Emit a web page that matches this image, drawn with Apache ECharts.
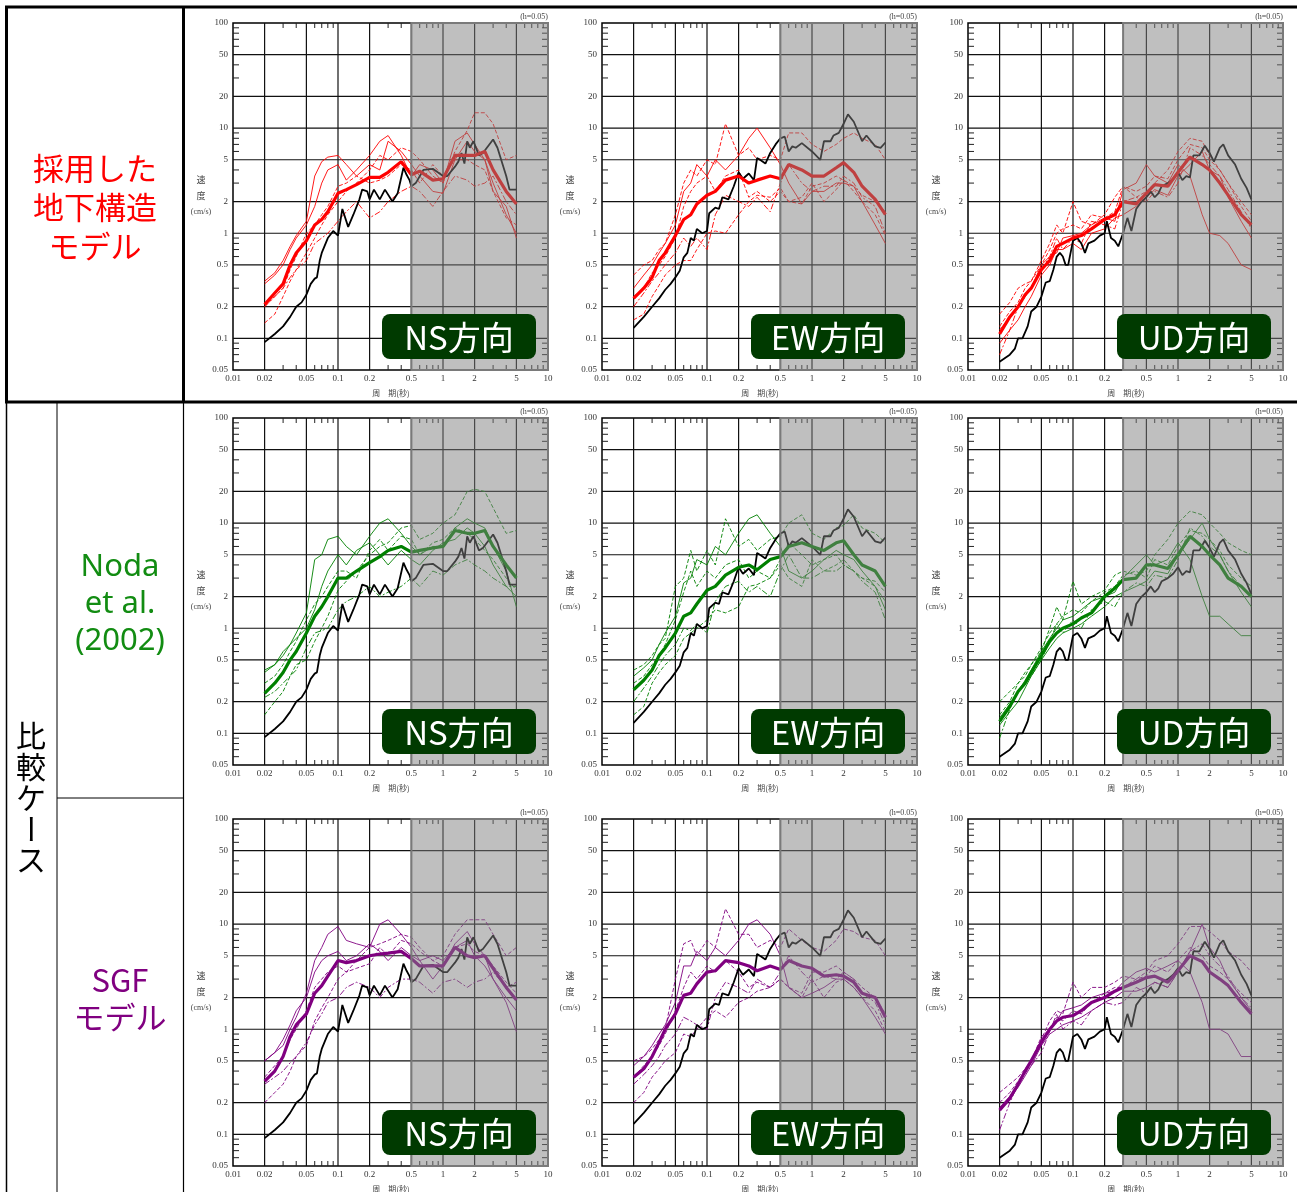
<!DOCTYPE html>
<html>
<head>
<meta charset="utf-8">
<script src="https://cdn.jsdelivr.net/npm/echarts@6/dist/echarts.min.js"></script>
<style>
html,body{margin:0;padding:0;background:#fff}
#chart{width:1297px;height:1192px}
</style>
</head>
<body>
<div id="chart"></div>
<script>
// 周期 (s) for the simulated spectra
var periods = [0.02,0.025,0.03,0.035,0.04,0.05,0.06,0.07,0.08,0.1,0.12,0.15,0.2,0.25,0.3,0.4,0.5,0.6,0.8,1,1.3,1.7,2,2.5,3,4,5];

// observed records (black)
var obsPerNS = [0.02,0.025,0.03,0.035,0.04,0.045,0.05,0.055,0.06,0.063,0.067,0.07,0.08,0.09,0.1,0.11,0.125,0.14,0.16,0.17,0.19,0.2,0.22,0.25,0.28,0.33,0.37,0.42,0.45,0.48,0.5,0.55,0.65,0.8,1.0,1.1,1.3,1.4,1.5,1.6,1.7,1.8,1.95,2.2,2.4,3.0,3.3,4.0,4.3,5.0];
var obsNS = [0.092,0.11,0.13,0.16,0.2,0.22,0.26,0.33,0.37,0.38,0.55,0.65,0.9,1.05,0.95,1.7,1.15,1.5,2.1,2.6,2.5,2.1,2.6,2.1,2.6,2.0,2.4,4.2,3.6,3.2,2.8,3.0,4.0,4.1,3.5,3.5,4.3,4.8,5.8,4.6,7.5,6.5,7.5,5.5,5.8,7.8,6.5,3.5,2.6,2.6];
var obsPerEW = [0.02,0.025,0.03,0.035,0.04,0.045,0.05,0.055,0.06,0.065,0.07,0.075,0.08,0.09,0.1,0.105,0.12,0.13,0.14,0.16,0.18,0.2,0.22,0.25,0.28,0.3,0.33,0.36,0.4,0.45,0.5,0.55,0.6,0.65,0.7,0.8,1.0,1.2,1.3,1.5,1.6,1.8,2.0,2.2,2.5,3.0,3.3,4.0,4.5,5.0];
var obsEW = [0.126,0.16,0.2,0.24,0.29,0.33,0.38,0.44,0.59,0.65,0.9,0.85,1.1,1.0,1.05,1.55,1.75,1.7,2.2,2.1,2.8,3.8,3.3,3.7,3.2,5.2,4.9,4.6,5.8,7.0,8.0,8.3,6.0,6.7,6.5,7.2,6.0,5.0,7.5,7.5,8.5,9.0,11,13.5,11.5,7.5,8.5,6.7,6.5,7.3];
var obsPerUD = [0.02,0.025,0.028,0.03,0.033,0.037,0.04,0.045,0.05,0.055,0.06,0.065,0.07,0.075,0.08,0.085,0.09,0.1,0.11,0.12,0.13,0.14,0.16,0.18,0.2,0.21,0.23,0.25,0.27,0.3,0.33,0.36,0.4,0.45,0.5,0.55,0.6,0.65,0.7,0.8,0.9,1.0,1.1,1.2,1.3,1.4,1.6,1.8,2.0,2.2,2.5,2.7,3.0,3.5,4.0,4.5,5.0];
var obsUD = [0.06,0.07,0.08,0.1,0.1,0.13,0.18,0.2,0.25,0.34,0.35,0.45,0.6,0.65,0.6,0.5,0.5,0.85,0.9,0.8,0.65,0.8,0.85,0.95,1.0,1.3,0.9,0.85,0.75,1.0,1.4,1.05,1.7,2.0,2.2,2.5,2.2,2.4,2.8,3.0,3.3,3.8,3.2,3.5,3.4,5.5,5.5,6.8,5.8,4.8,6.5,7.0,5.5,4.5,3.3,2.7,2.1];

// 採用した地下構造モデル (red)
var ns1Mean = [0.21,0.27,0.33,0.5,0.65,0.85,1.2,1.35,1.6,2.4,2.6,2.9,3.4,3.4,3.8,4.8,3.6,3.9,3.2,3.3,5.5,5.5,5.5,6.0,4.0,2.5,1.9];
var ns1A = [0.35,0.42,0.55,0.75,0.95,1.3,3.5,4.8,5.3,5.5,4.5,3.5,4.5,4.0,7.5,6.0,4.5,3.5,2.5,2.4,5.0,7.5,6.0,5.0,3.0,1.5,1.0];
var ns1B = [0.14,0.17,0.25,0.35,0.45,0.65,0.9,1.2,1.5,2.0,2.5,3.0,4.0,5.5,5.0,6.5,6.0,5.0,3.5,3.0,6.0,9.5,14,14,11,5.0,5.5];
var ns1C = [0.33,0.4,0.5,0.7,0.9,1.2,1.8,3.0,4.0,4.5,3.2,4.0,5.5,7.5,8.5,5.5,3.5,4.5,4.0,3.0,7.5,9.0,7.0,5.0,2.5,1.8,0.9];
var ns1D = [0.2,0.25,0.3,0.38,0.45,0.55,0.8,0.9,1.0,1.3,1.6,2.0,1.4,1.6,2.0,2.5,2.8,2.5,1.8,2.5,3.5,3.2,2.8,3.0,3.5,2.0,1.5];
var ns1E = [0.2,0.25,0.3,0.45,0.6,1.0,1.2,1.5,1.8,2.8,3.0,3.5,3.0,3.2,3.5,4.5,4.0,3.0,4.5,3.5,5.0,5.0,4.5,4.0,2.5,1.4,1.2];
var ew1Mean = [0.24,0.3,0.38,0.55,0.65,0.95,1.35,1.5,1.9,2.3,2.5,3.2,3.5,3.0,3.2,3.5,3.3,4.5,4.0,3.5,3.5,4.2,4.7,3.8,2.8,2.1,1.5];
var ew1A = [0.4,0.5,0.55,0.7,0.8,1.5,3.0,4.0,3.5,5.0,4.5,11,5.5,6.5,5.0,5.5,5.0,9.0,9.0,7.0,6.0,7.0,8.0,9.0,8.0,7.0,5.0];
var ew1B = [0.3,0.4,0.5,0.65,0.8,1.2,2.5,3.0,4.5,3.5,5.0,4.0,5.5,8.0,10,6.5,4.5,3.0,1.9,2.5,2.5,3.0,3.0,2.8,2.0,1.2,0.8];
var ew1C = [0.15,0.17,0.25,0.32,0.4,0.5,0.55,0.55,0.7,1.0,1.05,1.0,1.5,2.0,2.3,2.2,2.7,2.0,2.2,3.0,2.0,2.6,3.2,2.5,2.0,1.5,0.95];
var ew1D = [0.2,0.27,0.35,0.42,0.5,0.65,0.9,0.75,0.9,0.7,1.5,2.3,2.0,1.8,2.2,1.6,3.0,4.5,3.0,2.5,2.8,2.8,3.5,3.0,2.2,1.8,1.0];
var ew1E = [0.25,0.3,0.42,0.5,0.6,0.9,1.8,2.5,3.0,3.5,2.5,3.5,4.0,2.2,2.5,2.0,2.5,2.0,1.9,2.8,3.0,3.5,3.2,2.8,2.3,2.0,1.6];
var ud1Mean = [0.11,0.16,0.2,0.26,0.3,0.45,0.55,0.75,0.8,0.9,0.95,1.1,1.35,1.5,2.0,1.9,2.4,2.9,2.8,3.8,5.3,4.5,4.0,3.0,2.3,1.5,1.2];
var ud1A = [0.12,0.16,0.2,0.25,0.3,0.5,0.6,0.65,0.9,0.95,1.0,1.2,1.4,1.3,2.6,3.0,4.5,3.5,3.0,4.5,3.5,1.5,1.0,0.95,0.8,0.5,0.45];
var ud1B = [0.17,0.22,0.3,0.33,0.35,0.55,0.8,1.2,1.0,2.0,1.3,1.2,1.5,2.2,2.8,2.2,2.5,3.0,4.0,6.0,8.0,7.5,5.5,4.0,3.0,2.0,1.5];
var ud1C = [0.09,0.12,0.15,0.2,0.25,0.4,0.5,0.7,0.7,0.8,0.7,1.0,1.1,1.4,1.5,1.8,2.2,2.6,2.3,3.5,4.5,6.0,4.0,3.5,2.2,1.3,0.9];
var ud1D = [0.07,0.12,0.2,0.25,0.3,0.45,0.6,0.9,0.7,0.9,0.8,1.3,1.2,1.1,2.0,2.2,2.0,2.5,2.2,3.0,6.5,5.5,4.5,3.5,2.6,1.6,1.1];
var ud1E = [0.13,0.18,0.22,0.3,0.35,0.5,0.7,1.0,1.1,1.2,1.1,1.5,1.4,1.6,2.8,2.5,2.8,3.5,3.3,5.0,7.0,6.5,5.0,4.0,3.0,1.8,1.3];

// Noda et al. (2002) (green)
var ns2Mean = [0.24,0.3,0.38,0.5,0.6,0.9,1.3,1.6,2.0,3.0,3.0,3.5,4.2,4.8,5.5,6.0,5.3,5.5,5.8,6.0,8.5,8.0,8.0,8.5,6.0,4.0,3.0];
var ns2A = [0.4,0.45,0.55,0.7,0.9,1.4,4.5,5.0,7.0,7.5,6.0,5.0,7.5,10,11,8.0,6.0,5.0,6.0,6.0,9.0,11,10,9.0,6.0,3.5,1.6];
var ns2B = [0.15,0.2,0.25,0.35,0.45,0.5,0.75,1.0,1.3,2.3,2.8,3.5,5.0,6.0,6.5,9.0,9.5,7.0,8.0,10,12,20,21,20,14,8.0,8.5];
var ns2C = [0.38,0.45,0.6,0.7,0.8,1.0,1.5,2.5,3.5,5.0,4.0,5.5,6.5,5.0,4.0,5.5,4.5,4.0,5.5,6.5,7.0,9.0,8.0,6.0,4.0,2.5,2.0];
var ns2D = [0.22,0.25,0.3,0.35,0.4,0.65,0.9,0.95,1.0,1.5,1.8,2.0,2.5,2.0,2.2,2.5,3.0,2.5,3.5,3.2,4.0,4.5,4.0,3.5,3.0,2.5,2.5];
var ns2E = [0.3,0.35,0.45,0.6,0.75,1.2,1.7,2.0,2.5,3.5,3.5,3.0,5.5,7.0,5.5,7.5,7.0,5.0,6.5,7.0,9.0,8.0,7.0,5.5,4.5,3.0,2.3];
var ew2Mean = [0.26,0.32,0.4,0.55,0.65,0.9,1.3,1.4,1.7,2.3,2.5,3.2,3.8,4.0,3.6,4.5,4.8,6.0,6.5,6.0,5.5,6.5,6.8,5.0,4.0,3.5,2.5];
var ew2A = [0.4,0.45,0.55,0.7,0.8,2.5,3.0,5.5,3.5,5.5,4.0,11,6.0,7.0,5.5,7.0,7.5,10,12,8.0,7.0,9.0,9.5,12,9.0,8.0,6.5];
var ew2B = [0.35,0.42,0.5,0.7,0.9,1.3,2.7,3.0,4.5,4.0,6.0,5.0,8.0,11,12,8.0,6.0,3.5,3.0,3.5,4.5,5.5,5.0,4.5,3.5,2.5,1.5];
var ew2C = [0.15,0.18,0.3,0.38,0.45,0.55,0.8,0.9,1.0,1.2,1.5,1.4,1.6,2.5,2.6,3.0,4.0,3.0,2.5,4.5,3.5,4.0,4.5,3.5,3.0,2.5,1.8];
var ew2D = [0.2,0.27,0.35,0.45,0.55,0.7,1.0,0.95,1.1,0.9,1.8,2.5,2.8,2.2,2.5,2.0,3.5,5.0,3.0,3.0,3.5,3.5,4.0,3.5,2.8,2.2,1.2];
var ew2E = [0.3,0.35,0.45,0.55,0.7,1.2,2.2,3.5,2.5,3.5,3.0,4.0,4.5,3.0,3.5,3.0,4.5,6.5,5.0,4.0,4.5,5.0,4.0,3.5,3.0,2.8,2.2];
var ud2Mean = [0.13,0.18,0.25,0.3,0.38,0.55,0.75,0.9,1.0,1.1,1.25,1.4,2.0,2.4,2.9,3.0,4.0,4.0,3.7,5.0,7.5,6.0,5.0,4.0,3.0,2.5,2.0];
var ud2A = [0.14,0.19,0.25,0.32,0.4,0.6,0.8,1.0,1.2,1.3,1.5,1.8,2.0,2.2,3.0,4.0,5.0,4.0,4.5,6.5,4.5,2.0,1.3,1.3,1.1,0.85,0.85];
var ud2B = [0.2,0.25,0.3,0.38,0.45,0.6,1.0,1.6,1.2,2.8,1.7,2.0,2.3,3.2,3.5,3.2,3.5,5.0,7.0,10,13,12,10,8.0,6.5,5.5,5.0];
var ud2C = [0.12,0.16,0.2,0.27,0.35,0.5,0.65,0.8,0.9,1.0,1.1,1.3,1.6,2.0,2.2,2.5,2.8,3.5,3.3,5.0,7.0,10,7.0,5.0,3.5,2.2,1.6];
var ud2D = [0.09,0.17,0.25,0.3,0.35,0.5,0.75,1.1,0.9,1.2,1.0,1.5,1.8,1.6,2.2,2.7,2.5,3.2,3.0,4.5,9.0,7.5,6.0,5.0,3.5,2.5,2.0];
var ud2E = [0.15,0.2,0.3,0.35,0.45,0.65,0.9,1.1,1.3,1.5,1.4,1.8,2.2,2.5,3.2,3.5,3.0,4.5,4.0,6.0,8.5,8.0,7.0,5.5,4.0,3.0,2.5];

// SGFモデル (purple)
var ns3Mean = [0.32,0.4,0.55,0.85,1.1,1.4,2.2,2.6,3.2,4.5,4.3,4.5,5.0,5.2,5.3,5.5,4.7,4.0,4.0,4.0,6.0,5.0,4.8,5.0,3.8,2.5,1.9];
var ns3A = [0.5,0.6,0.7,1.0,1.3,2.2,4.5,6.0,8.0,9.5,7.0,6.5,6.0,10,11,8.0,6.0,4.5,3.0,4.0,6.5,8.5,6.5,5.0,3.0,1.8,0.95];
var ns3B = [0.2,0.25,0.3,0.4,0.55,0.7,1.2,1.6,2.0,3.0,3.5,4.5,6.0,6.5,7.0,8.0,7.5,6.0,4.5,5.0,8.0,11,11,11,8.0,5.0,6.0];
var ns3C = [0.5,0.6,0.8,1.1,1.5,2.0,3.5,4.5,5.0,5.5,4.5,5.0,6.5,5.5,4.5,6.0,5.0,4.5,5.0,4.5,6.0,7.0,5.0,4.0,3.0,2.0,1.5];
var ns3D = [0.3,0.35,0.4,0.48,0.55,0.75,1.1,1.4,1.8,2.0,2.5,2.8,2.5,2.0,2.5,3.0,3.0,2.8,2.2,2.8,3.0,2.5,2.8,3.0,3.5,2.5,2.8];
var ns3E = [0.35,0.45,0.55,0.8,1.0,1.5,2.5,3.0,3.5,4.0,3.5,3.8,4.2,6.0,5.0,7.0,6.5,5.5,4.5,4.0,6.0,6.5,5.5,5.0,4.0,2.8,2.2];
var ew3Mean = [0.35,0.42,0.55,0.75,1.0,1.4,2.1,2.2,2.7,3.5,3.6,4.5,4.3,4.0,3.6,4.0,3.7,4.5,4.0,3.8,3.2,3.3,3.2,2.8,2.2,2.0,1.3];
var ew3A = [0.5,0.55,0.65,0.8,1.0,3.0,6.5,7.0,5.0,7.0,6.0,14,8.0,8.0,6.0,7.0,6.0,9.0,7.0,6.0,5.5,7.0,9.0,8.5,7.5,7.0,5.0];
var ew3B = [0.45,0.55,0.7,0.9,1.1,1.8,4.0,4.0,5.5,4.5,6.0,5.0,7.0,10,11,8.0,5.0,2.5,2.0,2.2,2.5,3.0,3.0,2.5,2.0,1.3,0.9];
var ew3C = [0.2,0.25,0.35,0.42,0.5,0.6,0.9,0.85,1.0,1.3,1.5,1.3,1.8,2.0,2.3,2.5,3.0,2.5,2.0,3.0,2.0,2.8,3.0,2.5,2.0,1.5,0.95];
var ew3D = [0.3,0.37,0.45,0.55,0.7,0.9,1.3,1.2,1.1,1.0,2.0,2.8,2.5,2.2,3.0,2.5,3.5,5.0,3.5,2.8,3.2,3.0,3.5,3.0,2.2,1.8,1.1];
var ew3E = [0.35,0.45,0.55,0.7,0.9,1.5,2.5,3.5,3.0,4.0,3.5,4.5,3.5,2.5,2.8,2.5,3.0,2.5,2.2,3.5,3.5,4.0,3.5,3.0,2.5,2.0,1.4];
var ud3Mean = [0.17,0.22,0.3,0.4,0.5,0.75,1.0,1.2,1.3,1.35,1.5,1.8,2.0,2.3,2.5,2.8,3.1,3.2,2.8,3.6,5.0,4.4,3.5,3.0,2.6,1.8,1.4];
var ud3A = [0.18,0.23,0.3,0.4,0.5,0.8,1.0,1.2,1.5,1.6,1.7,2.0,2.2,2.3,2.8,3.5,3.8,3.5,4.0,4.5,3.5,1.8,1.0,1.0,0.9,0.55,0.55];
var ud3B = [0.25,0.3,0.35,0.42,0.5,0.8,1.2,1.5,1.4,2.8,2.0,2.5,2.5,2.8,3.2,3.0,3.5,4.5,5.0,6.5,9.5,9.5,8.5,7.0,5.5,4.5,3.5];
var ud3C = [0.17,0.22,0.28,0.36,0.45,0.7,0.9,1.0,1.1,1.2,1.3,1.5,1.8,2.0,2.3,2.3,2.5,2.8,2.5,3.5,5.5,10,6.0,4.5,3.0,2.0,1.5];
var ud3D = [0.11,0.2,0.3,0.38,0.45,0.6,0.95,1.4,1.0,1.2,1.1,1.5,1.8,1.7,1.8,2.5,2.2,2.8,2.5,3.5,5.5,6.5,5.0,4.0,3.2,2.0,1.6];
var ud3E = [0.2,0.25,0.32,0.4,0.5,0.85,1.0,1.3,1.2,1.5,1.4,1.8,2.2,2.5,2.5,3.0,3.2,4.0,3.5,4.5,6.0,5.0,4.0,3.5,3.0,2.2,1.8];

// axis grid lines, minor ticks and tick labels
var xGrid = [0.02,0.05,0.1,0.2,0.5,1,2,5];
var yGrid = [0.1,0.2,0.5,1,2,5,10,20,50];
var xMinor = [0.03,0.04,0.06,0.07,0.08,0.09,0.3,0.4,0.6,0.7,0.8,0.9,3,4,6,7,8,9];
var yMinor = [0.06,0.07,0.08,0.09,0.3,0.4,0.6,0.7,0.8,0.9,3,4,6,7,8,9,30,40,60,70,80,90];
var xLabels = [0.01,0.02,0.05,0.1,0.2,0.5,1,2,5,10];
var yLabels = [0.05,0.1,0.2,0.5,1,2,5,10,20,50,100];

var dirNames = ['NS方向','EW方向','UD方向'];
var shadeFrom = [0.5, 0.5, 0.3];

var X_MIN = 0.01, X_MAX = 10, Y_MIN = 0.05, Y_MAX = 100;
var colLeft = [233, 602, 968];
var rowTop = [23, 418, 819];
var plotW = 315, plotH = 347;
var rowColors = ['#ff0000', '#008000', '#800080'];
// dash style of the thin lines per column: 0 solid, 1 dashed, 2 dash-dot
var dashByCol = [[0,1,0,2,1],[1,0,1,2,1],[0,1,0,2,1]];
var dashTypes = ['solid', [4,2], [6,2,2,2]];

var obsPer = [obsPerNS, obsPerEW, obsPerUD];
var obsVal = [obsNS, obsEW, obsUD];
var sim = [
    [[ns1Mean,ns1A,ns1B,ns1C,ns1D,ns1E],[ew1Mean,ew1A,ew1B,ew1C,ew1D,ew1E],[ud1Mean,ud1A,ud1B,ud1C,ud1D,ud1E]],
    [[ns2Mean,ns2A,ns2B,ns2C,ns2D,ns2E],[ew2Mean,ew2A,ew2B,ew2C,ew2D,ew2E],[ud2Mean,ud2A,ud2B,ud2C,ud2D,ud2E]],
    [[ns3Mean,ns3A,ns3B,ns3C,ns3D,ns3E],[ew3Mean,ew3A,ew3B,ew3C,ew3D,ew3E],[ud3Mean,ud3A,ud3B,ud3C,ud3D,ud3E]]
];

var decorData = [];
xGrid.forEach(function (v) { decorData.push([v, Y_MIN, 0]); });
yGrid.forEach(function (v) { decorData.push([X_MIN, v, 1]); });
xMinor.forEach(function (v) { decorData.push([v, Y_MIN, 2]); });
yMinor.forEach(function (v) { decorData.push([X_MIN, v, 3]); });
xLabels.forEach(function (v) { decorData.push([v, Y_MIN, 4]); });
yLabels.forEach(function (v) { decorData.push([X_MIN, v, 5]); });

var labelFont = '9px "Liberation Serif"';

function seg(x1, y1, x2, y2, color, w) {
    return {type: 'line', shape: {x1: x1, y1: y1, x2: x2, y2: y2}, style: {stroke: color, lineWidth: w}};
}

function renderDecor(params, api) {
    var kind = api.value(2);
    var a, b;
    if (kind === 0) {
        a = api.coord([api.value(0), Y_MIN]); b = api.coord([api.value(0), Y_MAX]);
        return seg(a[0], a[1], b[0], b[1], '#111', 1.2);
    }
    if (kind === 1) {
        a = api.coord([X_MIN, api.value(1)]); b = api.coord([X_MAX, api.value(1)]);
        return seg(a[0], a[1], b[0], b[1], '#111', 1.2);
    }
    if (kind === 2) {
        a = api.coord([api.value(0), Y_MIN]); b = api.coord([api.value(0), Y_MAX]);
        return {type: 'group', children: [
            seg(a[0], a[1], a[0], a[1] - 5, '#222', 1),
            seg(b[0], b[1], b[0], b[1] + 5, '#222', 1)
        ]};
    }
    if (kind === 3) {
        a = api.coord([X_MIN, api.value(1)]); b = api.coord([X_MAX, api.value(1)]);
        return {type: 'group', children: [
            seg(a[0], a[1], a[0] + 6, a[1], '#222', 1),
            seg(b[0], b[1], b[0] - 6, b[1], '#222', 1)
        ]};
    }
    if (kind === 4) {
        a = api.coord([api.value(0), Y_MIN]);
        return {type: 'text', x: a[0], y: a[1] + 9, style: {
            text: String(api.value(0)), font: labelFont, fill: '#333',
            align: 'center', verticalAlign: 'middle', textAlign: 'center', textVerticalAlign: 'middle'}};
    }
    a = api.coord([X_MIN, api.value(1)]);
    return {type: 'text', x: a[0] - 5, y: a[1], style: {
        text: String(api.value(1)), font: labelFont, fill: '#333',
        align: 'right', verticalAlign: 'middle', textAlign: 'right', textVerticalAlign: 'middle'}};
}

function renderShade(params, api) {
    var p0 = api.coord([api.value(0), Y_MAX]);
    var p1 = api.coord([X_MAX, Y_MIN]);
    return {type: 'rect', shape: {x: p0[0], y: p0[1], width: p1[0] - p0[0], height: p1[1] - p0[1]},
        style: {fill: 'rgba(128,128,128,0.5)', stroke: '#7a7a7a', lineWidth: 2}};
}

function pairs(xs, ys) {
    return xs.map(function (x, i) { return [x, ys[i]]; });
}

function txt(x, y, text, font, color, extra) {
    var el = {type: 'text', x: x, y: y, z: 100, style: {
        text: text, font: font, fill: color,
        align: 'center', verticalAlign: 'middle', textAlign: 'center', textVerticalAlign: 'middle'}};
    if (extra) { for (var k in extra) { el.style[k] = extra[k]; } }
    return el;
}

var grids = [], xAxes = [], yAxes = [], series = [], graphics = [];

for (var r = 0; r < 3; r++) {
    for (var c = 0; c < 3; c++) {
        var g = r * 3 + c;
        var L = colLeft[c], T = rowTop[r];
        grids.push({left: L, top: T, width: plotW, height: plotH, show: true,
            borderColor: '#000', borderWidth: 1.5, backgroundColor: '#fff'});
        xAxes.push({gridIndex: g, type: 'log', logBase: 10, min: X_MIN, max: X_MAX,
            axisLine: {show: false}, axisTick: {show: false}, axisLabel: {show: false}, splitLine: {show: false}});
        yAxes.push({gridIndex: g, type: 'log', logBase: 10, min: Y_MIN, max: Y_MAX,
            axisLine: {show: false}, axisTick: {show: false}, axisLabel: {show: false}, splitLine: {show: false}});

        series.push({type: 'custom', xAxisIndex: g, yAxisIndex: g, silent: true, clip: false, z: 1,
            encode: {x: 0, y: 1}, data: decorData, renderItem: renderDecor});

        series.push({type: 'line', xAxisIndex: g, yAxisIndex: g, silent: true, z: 3,
            symbol: 'none', data: pairs(obsPer[c], obsVal[c]),
            lineStyle: {color: '#000', width: 1.8}});

        var set = sim[r][c];
        for (var k = 1; k < set.length; k++) {
            series.push({type: 'line', xAxisIndex: g, yAxisIndex: g, silent: true, z: 2,
                symbol: 'none', data: pairs(periods, set[k]),
                lineStyle: {color: rowColors[r], width: 0.9, type: dashTypes[dashByCol[c][k - 1]]}});
        }
        series.push({type: 'line', xAxisIndex: g, yAxisIndex: g, silent: true, z: 4,
            symbol: 'none', data: pairs(periods, set[0]),
            lineStyle: {color: rowColors[r], width: 3.2}});

        series.push({type: 'custom', xAxisIndex: g, yAxisIndex: g, silent: true, clip: false, z: 6,
            encode: {x: 0, y: 1}, data: [[shadeFrom[c], Y_MAX]], renderItem: renderShade});

        // panel annotations
        graphics.push(txt(L + plotW, T - 6, '(h=0.05)', '8px "Liberation Serif"', '#444', {align: 'right', textAlign: 'right'}));
        graphics.push(txt(L - 32, T + 157, '速', '9px "Noto Sans CJK JP"', '#444'));
        graphics.push(txt(L - 32, T + 173, '度', '9px "Noto Sans CJK JP"', '#444'));
        graphics.push(txt(L - 32, T + 189, '(cm/s)', '8px "Liberation Serif"', '#444'));
        graphics.push(txt(L + 158, T + 370, '周　期(秒)', '8px "Noto Sans CJK JP"', '#444'));
        graphics.push({type: 'rect', z: 100, shape: {x: L + 149, y: T + 291, width: 154, height: 45, r: 8},
            style: {fill: '#003a00'}});
        graphics.push(txt(L + 226, T + 314, dirNames[c], '33px "Noto Sans CJK JP"', '#fff'));
    }
}

// table frame
function frameLine(x1, y1, x2, y2, w) {
    return {type: 'line', z: 100, shape: {x1: x1, y1: y1, x2: x2, y2: y2}, style: {stroke: '#000', lineWidth: w}};
}
graphics.push(frameLine(5, 7, 1297, 7, 3));
graphics.push(frameLine(5, 402, 1297, 402, 3));
graphics.push(frameLine(6.5, 7, 6.5, 402, 3));
graphics.push(frameLine(183.5, 7, 183.5, 402, 3));
graphics.push(frameLine(6.5, 402, 6.5, 1192, 1.5));
graphics.push(frameLine(57, 402, 57, 1192, 1));
graphics.push(frameLine(183.5, 402, 183.5, 1192, 1.2));
graphics.push(frameLine(57, 798, 183.5, 798, 1));

// row captions
graphics.push(txt(95, 207, '採用した\n地下構造\nモデル', '31px "Noto Sans CJK JP"', '#ff0000', {lineHeight: 39}));
graphics.push(txt(120, 604, 'Noda\net al.\n(2002)', '31px "Noto Sans"', '#128c12', {lineHeight: 37}));
graphics.push(txt(120, 999, 'SGF\nモデル', '31px "Noto Sans CJK JP"', '#800080', {lineHeight: 37}));
var vertical = ['比', '較', 'ケ', 'ー', 'ス'];
vertical.forEach(function (ch, i) {
    var el = txt(31, 736 + i * 31, ch, '30px "Noto Sans CJK JP"', '#000');
    if (ch === 'ー') { el.rotation = -Math.PI / 2; }
    graphics.push(el);
});

var chart = echarts.init(document.getElementById('chart'));
chart.setOption({
    animation: false,
    backgroundColor: '#fff',
    grid: grids,
    xAxis: xAxes,
    yAxis: yAxes,
    series: series,
    graphic: {elements: graphics}
});
</script>
</body>
</html>
